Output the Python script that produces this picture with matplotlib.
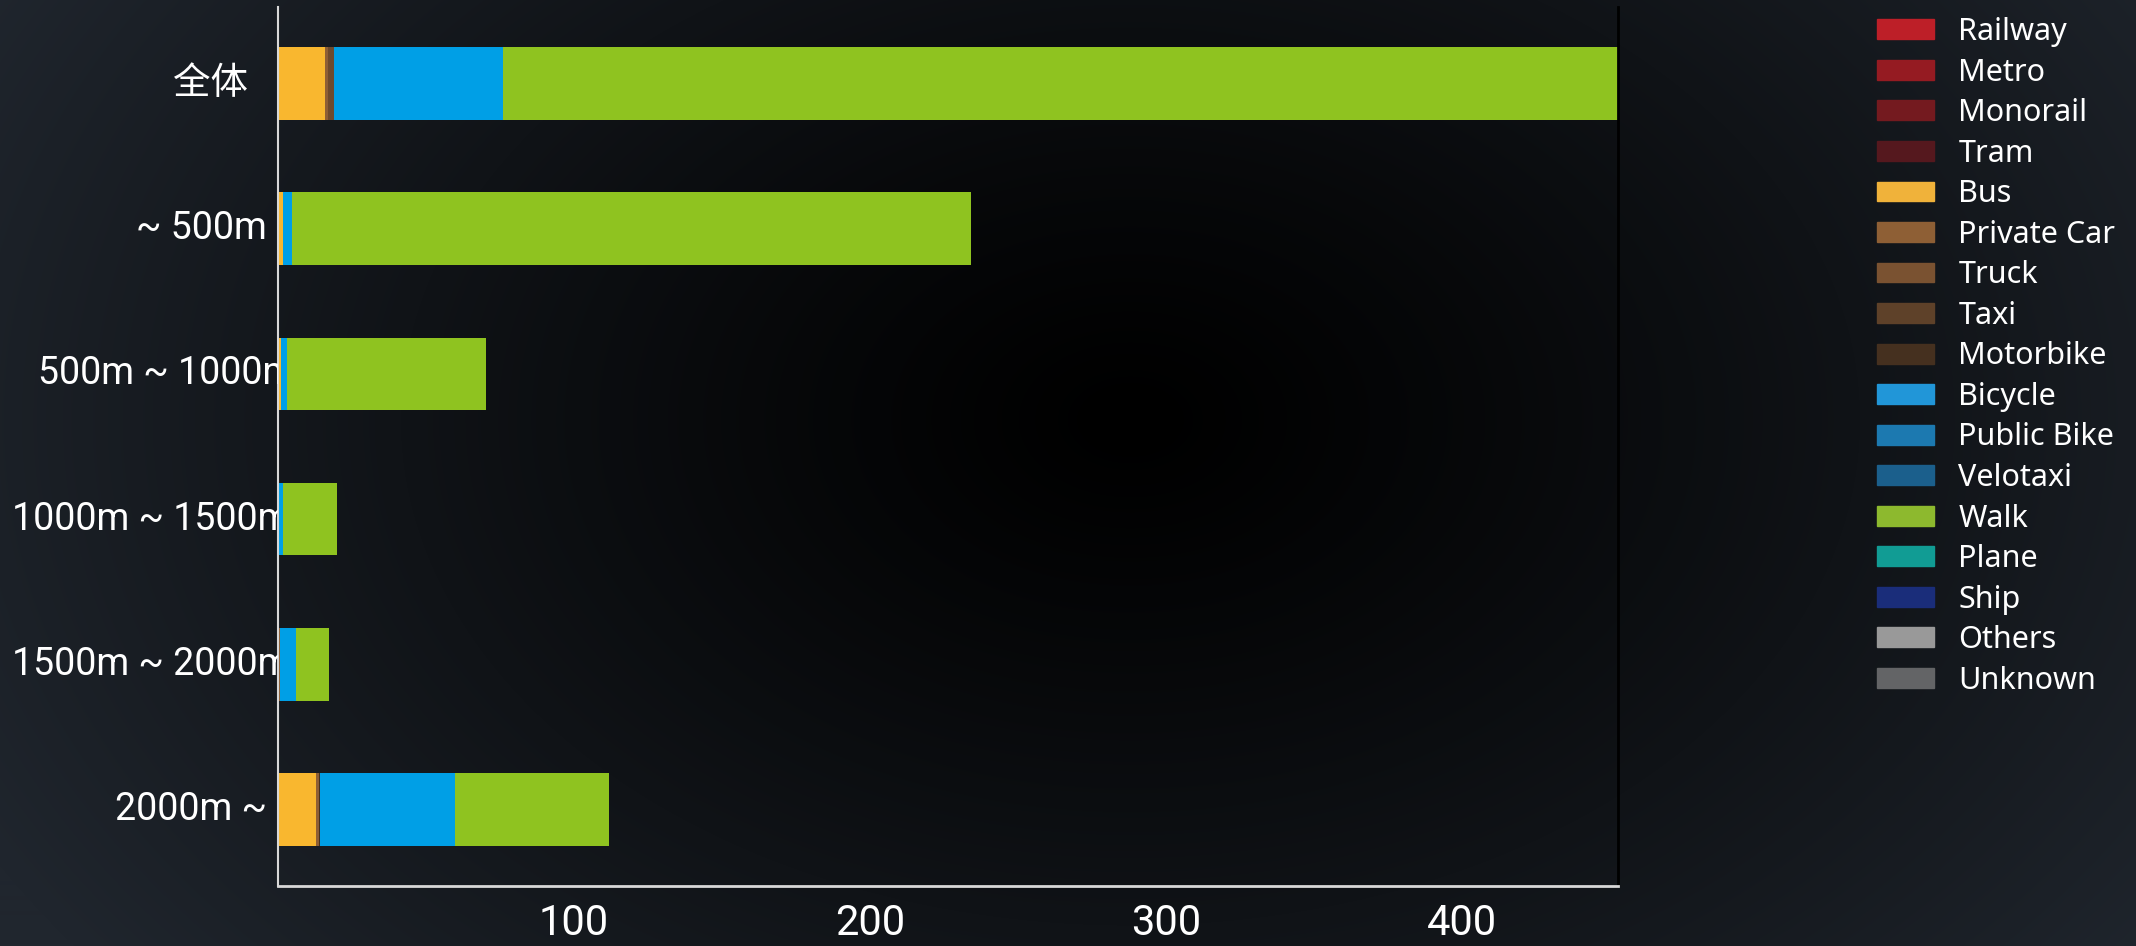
import numpy as np
import matplotlib
matplotlib.use('Agg')
import matplotlib.pyplot as plt
from matplotlib.transforms import Bbox, TransformedBbox, blended_transform_factory

categories = ['全体', '~ 500m', '500m ~ 1000m', '1000m ~ 1500m', '1500m ~ 2000m', '2000m ~']
modes = ['Railway', 'Metro', 'Monorail', 'Tram', 'Bus', 'Private Car', 'Truck', 'Taxi', 'Motorbike',
         'Bicycle', 'Public Bike', 'Velotaxi', 'Walk', 'Plane', 'Ship', 'Others', 'Unknown']

railway = [0, 0, 0, 0, 0, 0]
metro = [0, 0, 0, 0, 0, 0]
monorail = [0, 0, 0, 0, 0, 0]
tram = [0, 0, 0, 0, 0, 0]
bus = [15.9, 1.6, 1.0, 0.2, 0, 12.8]
private_car = [1.0, 0, 0, 0, 0.7, 1.0]
truck = [2.0, 0, 0, 0, 0, 0]
taxi = [0, 0, 0, 0, 0, 0]
motorbike = [0, 0, 0, 0, 0, 0.3]
bicycle = [57.0, 3.0, 1.9, 1.4, 5.4, 45.8]
public_bike = [0, 0, 0, 0, 0, 0]
velotaxi = [0, 0, 0, 0, 0, 0]
walk = [376.8, 229.5, 67.4, 18.2, 11.1, 52.0]
plane = [0, 0, 0, 0, 0, 0]
ship = [0, 0, 0, 0, 0, 0]
others = [0, 0, 0, 0, 0, 0]
unknown = [0, 0, 0, 0, 0, 0]

series = [railway, metro, monorail, tram, bus, private_car, truck, taxi, motorbike,
          bicycle, public_bike, velotaxi, walk, plane, ship, others, unknown]
colors = ['#bd1f28', '#951b22', '#741a1f', '#55181e', '#f9b72f', '#8e5f35', '#6e4a2d', '#5e4129',
          '#45301f', '#009fe6', '#1c79b0', '#1b5f8c', '#8fc320', '#119c94', '#1a2d7a', '#999999', '#636466']
legend_colors = ['#bd1f28', '#951b22', '#741a1f', '#55181e', '#f0b23a', '#8e5f35', '#7a5231', '#5e4129',
                 '#45301f', '#2196d8', '#1c79b0', '#1b5f8c', '#8db92e', '#119c94', '#1a2d7a', '#999999',
                 '#636466']
# right edge (px) of each category label
label_right = [248, 267, 295, 290, 290, 267]

W, H = 2136, 946
fig = plt.figure(figsize=(W / 100, H / 100), dpi=100)

# radial background
bg = fig.add_axes([0, 0, 1, 1], zorder=-10)
yy, xx = np.mgrid[0:H, 0:W]
t = np.sqrt(((xx - 1130) / 1300.0) ** 2 + ((yy - 420) / 900.0) ** 2)
t = np.clip(t, 0, 1) ** 1.2
edge = np.array([0x20, 0x26, 0x2e]) / 255.0
img = t[..., None] * edge[None, None, :]
bg.imshow(img, aspect='auto', extent=[0, 1, 0, 1], interpolation='bilinear')
bg.set_axis_off()

ax = fig.add_axes([278 / W, 1 - 886 / H, (1618 - 278) / W, (886 - 7) / H])
ax.set_facecolor('none')

y = np.arange(len(categories))
left = np.zeros(len(categories))
for name, vals, c in zip(modes, series, colors):
    vals = np.array(vals, dtype=float)
    ax.barh(y, vals, height=0.5, left=left, color=c, label=name)
    left += vals

ax.set_xlim(0, 452.7)
ax.set_ylim(5.525, -0.525)
ax.set_yticks(y)
ax.set_yticklabels([])
ax.set_xticks([100, 200, 300, 400])
ax.set_xticklabels(['100', '200', '300', '400'], family=['Roboto'], fontsize=30, color='white')
ax.tick_params(axis='both', length=0)
ax.tick_params(axis='x', pad=12)

# category labels, clipped at the left spine
clip = TransformedBbox(Bbox([[0, 0], [278 / W, 1]]), fig.transFigure)
trans = blended_transform_factory(fig.transFigure, ax.transData)
for yi, (lab, xr) in enumerate(zip(categories, label_right)):
    txt = ax.text(xr / W, yi, lab, transform=trans, ha='right', va='center', color='white',
                  fontsize=27, family=['Roboto', 'Noto Sans CJK SC'])
    txt.set_clip_box(clip)
    txt.set_clip_on(True)

ax.spines['top'].set_visible(False)
ax.spines['left'].set_color('#d8d8d8')
ax.spines['left'].set_linewidth(1.5)
ax.spines['bottom'].set_color('#d8d8d8')
ax.spines['bottom'].set_linewidth(2)
ax.spines['right'].set_color('#000000')
ax.spines['right'].set_linewidth(2)

handles, labels = ax.get_legend_handles_labels()
leg = fig.legend(handles, labels, loc='upper left', bbox_to_anchor=(1877 / W, 0.982),
                 frameon=False, borderpad=0, borderaxespad=0, handlelength=1.87, handleheight=0.62,
                 handletextpad=0.79, labelspacing=0.345, prop={'family': 'Noto Sans', 'size': 22})
for txt in leg.get_texts():
    txt.set_color('white')
for h, c in zip(leg.legend_handles, legend_colors):
    h.set_facecolor(c)
    h.set_edgecolor(c)

fig.savefig('out.png', dpi=100)
